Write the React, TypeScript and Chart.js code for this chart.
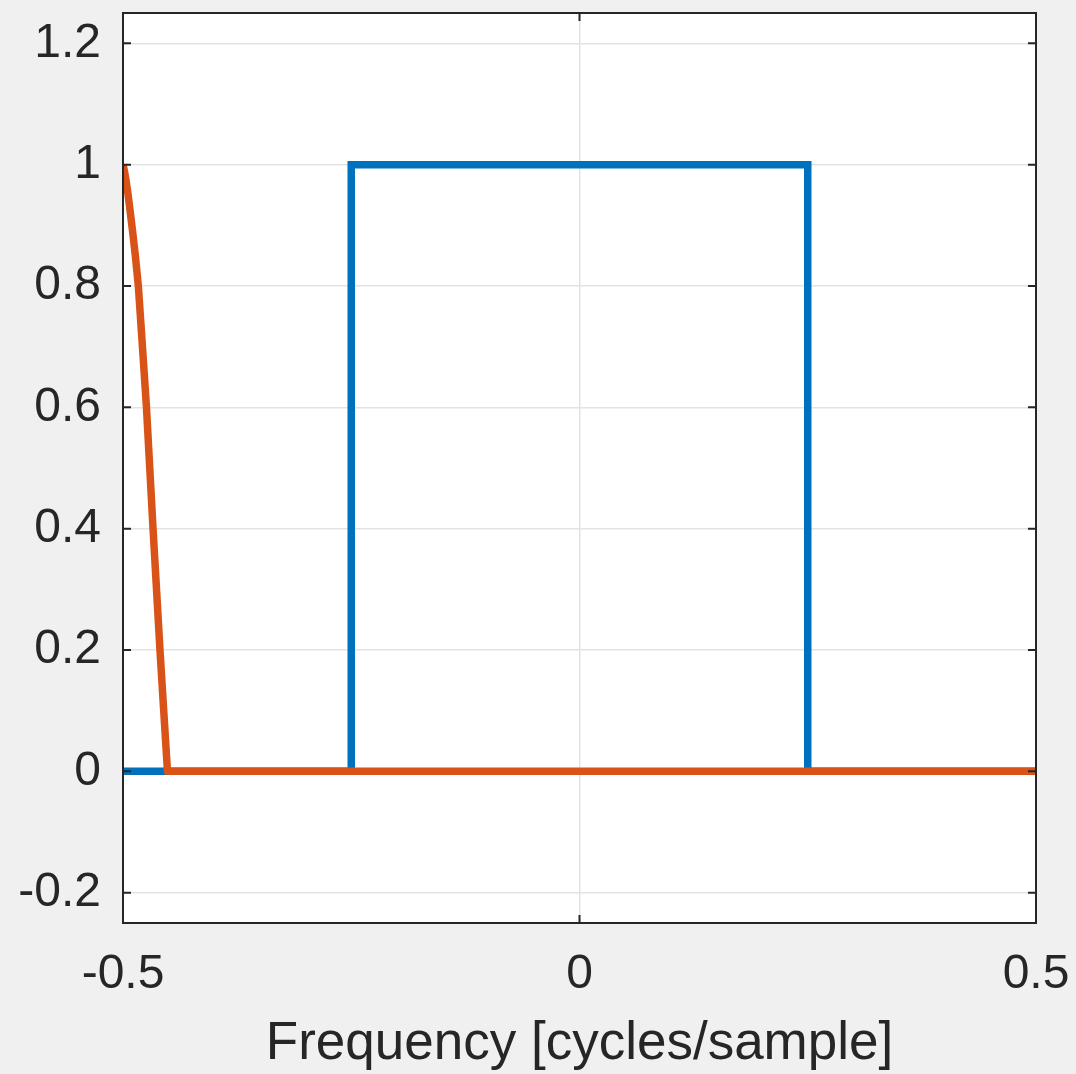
import React, { useEffect, useRef } from "react";
import { Chart, registerables } from "chart.js";

Chart.register(...registerables);

// Data
const IDEAL_X = [-0.5, -0.25, -0.25, 0.25, 0.25, 0.5];
const IDEAL_Y = [0, 0, 1, 1, 0, 0];
const RESP_X = [-0.5, -0.4985, -0.4968, -0.4948, -0.4923, -0.4895, -0.4865, -0.4832, -0.4787, -0.4743, -0.4707, -0.4671, -0.4633, -0.4595, -0.4554, -0.4513, 0.5];
const RESP_Y = [1, 0.99, 0.975, 0.955, 0.925, 0.89, 0.85, 0.8, 0.7, 0.6, 0.5, 0.4, 0.3, 0.2, 0.1, 0, 0];
const X_TICKS = [-0.5, 0, 0.5];
const Y_TICKS = [-0.2, 0, 0.2, 0.4, 0.6, 0.8, 1, 1.2];
const X_TITLE = "Frequency [cycles/sample]";

const FONT = "'Liberation Sans', Arial, Helvetica, sans-serif";
const TEXT = "#262626";

const fmt = (v: number) => String(Math.round(v * 10) / 10);

const framePlugin = {
  id: "frame",
  beforeDraw(chart: any) {
    const { ctx, chartArea: a } = chart;
    ctx.save();
    ctx.fillStyle = "#ffffff";
    ctx.fillRect(a.left, a.top, a.right - a.left, a.bottom - a.top);
    ctx.restore();
  },
  afterDraw(chart: any) {
    const { ctx, chartArea: a, scales } = chart;
    const tl = 8;
    ctx.save();
    ctx.strokeStyle = TEXT;
    ctx.lineWidth = 2;
    ctx.beginPath();
    for (const v of Y_TICKS) {
      const y = scales.y.getPixelForValue(v);
      ctx.moveTo(a.left, y);
      ctx.lineTo(a.left + tl, y);
      ctx.moveTo(a.right, y);
      ctx.lineTo(a.right - tl, y);
    }
    for (const v of X_TICKS) {
      const x = scales.x.getPixelForValue(v);
      ctx.moveTo(x, a.bottom);
      ctx.lineTo(x, a.bottom - tl);
      ctx.moveTo(x, a.top);
      ctx.lineTo(x, a.top + tl);
    }
    ctx.stroke();
    ctx.strokeRect(a.left, a.top, a.right - a.left, a.bottom - a.top);
    ctx.restore();
  },
};

export default function App() {
  const ref = useRef<HTMLCanvasElement | null>(null);
  useEffect(() => {
    document.body.style.margin = "0";
    document.body.style.background = "#f0f0f0";
    if (!ref.current) return;
    const chart = new Chart(ref.current, {
      type: "scatter",
      data: {
        datasets: [
          {
            label: "response",
            data: RESP_X.map((x, i) => ({ x, y: RESP_Y[i] })),
            showLine: true,
            borderColor: "#D95319",
            backgroundColor: "#D95319",
            borderWidth: 7.5,
            pointRadius: 0,
            borderJoinStyle: "round",
            tension: 0,
            order: 1,
          },
          {
            label: "ideal",
            data: IDEAL_X.map((x, i) => ({ x, y: IDEAL_Y[i] })),
            showLine: true,
            borderColor: "#0072BD",
            backgroundColor: "#0072BD",
            borderWidth: 7.5,
            pointRadius: 0,
            borderJoinStyle: "miter",
            tension: 0,
            order: 2,
          },
        ],
      },
      options: {
        animation: false,
        responsive: false,
        maintainAspectRatio: false,
        layout: { padding: { top: 13, right: 40, left: 0, bottom: 0 } },
        plugins: {
          legend: { display: false },
          tooltip: { enabled: false },
        },
        scales: {
          x: {
            type: "linear",
            min: -0.5,
            max: 0.5,
            afterBuildTicks: (s: any) => {
              s.ticks = X_TICKS.map((value) => ({ value }));
            },
            afterFit: (s: any) => {
              s.height = 151;
              s.paddingLeft = 0;
              s.paddingRight = 0;
            },
            ticks: {
              callback: (v: any) => fmt(Number(v)),
              font: { family: FONT, size: 48 },
              color: TEXT,
              padding: 23,
              maxRotation: 0,
              autoSkip: false,
            },
            grid: { color: "#e3e3e3", lineWidth: 1.5, drawTicks: false },
            border: { display: false },
            title: {
              display: true,
              text: X_TITLE,
              font: { family: FONT, size: 53 },
              color: TEXT,
              padding: { top: 0, bottom: -2 },
            },
          },
          y: {
            type: "linear",
            min: -0.25,
            max: 1.25,
            afterBuildTicks: (s: any) => {
              s.ticks = Y_TICKS.map((value) => ({ value }));
            },
            afterFit: (s: any) => {
              s.width = 123;
              s.paddingTop = 0;
              s.paddingBottom = 0;
            },
            ticks: {
              callback: (v: any) => fmt(Number(v)),
              font: { family: FONT, size: 48 },
              color: TEXT,
              padding: 22,
              autoSkip: false,
            },
            grid: { color: "#e3e3e3", lineWidth: 1.5, drawTicks: false },
            border: { display: false },
          },
        },
      },
      plugins: [framePlugin],
    });
    return () => chart.destroy();
  }, []);
  return (
    <canvas
      ref={ref}
      width={1076}
      height={1074}
      style={{ display: "block", background: "#f0f0f0" }}
    />
  );
}
